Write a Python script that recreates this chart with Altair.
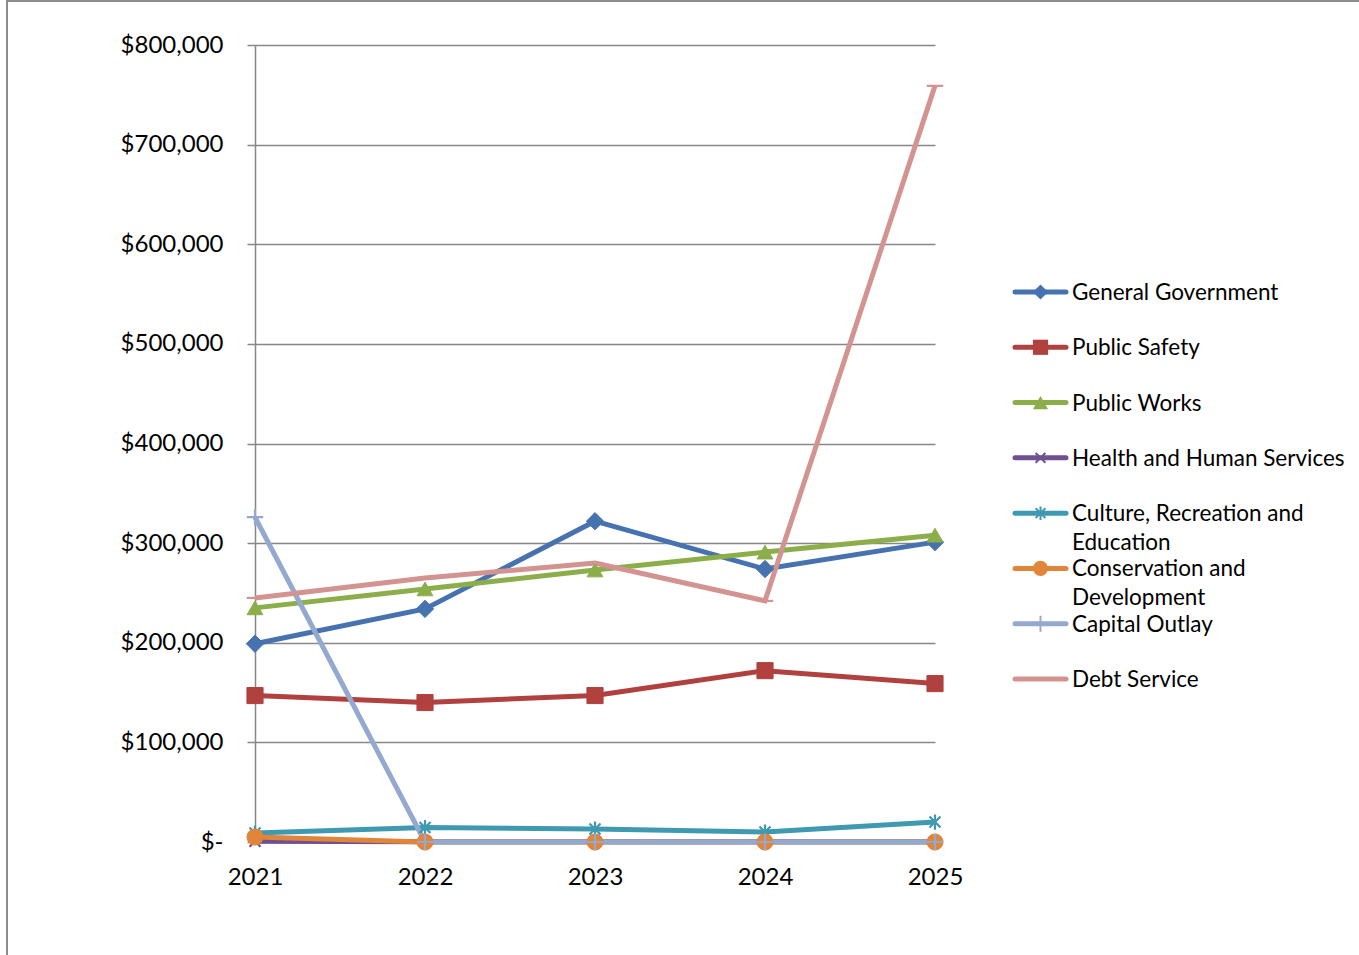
import altair as alt
import pandas as pd

years = ["2021", "2022", "2023", "2024", "2025"]
series_names = [
    "General Government",
    "Public Safety",
    "Public Works",
    "Health and Human Services",
    "Culture, Recreation and Education",
    "Conservation and Development",
    "Capital Outlay",
    "Debt Service",
]
legend_labels = [
    "General Government",
    "Public Safety",
    "Public Works",
    "Health and Human Services",
    "Culture, Recreation and\nEducation",
    "Conservation and\nDevelopment",
    "Capital Outlay",
    "Debt Service",
]
general_government = [199000, 234000, 322000, 274000, 301000]
public_safety = [147000, 140000, 147000, 172000, 159000]
public_works = [235000, 254000, 273000, 291000, 308000]
health_human_services = [800, 300, 300, 300, 300]
culture_recreation = [9000, 14500, 13000, 10000, 20000]
conservation_development = [5000, 0, 0, 0, 0]
capital_outlay = [326000, 0, 0, 0, 0]
debt_service = [245000, 265000, 280000, 242000, 759000]

colors = ["#4672B0", "#B0413E", "#8CAE4A", "#6F5091", "#3F99B1", "#E08539", "#93A9D0", "#D39391"]
marker_shapes = [
    "diamond",
    "square",
    "triangle-up",
    "M-0.8,-0.8L0.8,0.8M-0.8,0.8L0.8,-0.8",
    "M-0.8,-0.8L0.8,0.8M-0.8,0.8L0.8,-0.8M0,-1.1L0,1.1",
    "circle",
    "M-1.3,0L1.3,0M0,-1.3L0,1.3",
    "M-1.3,0L1.3,0",
]
marker_filled = [True, True, True, False, False, True, False, False]
marker_sizes = [300, 260, 250, 190, 190, 260, 160, 160]

values = [general_government, public_safety, public_works, health_human_services,
          culture_recreation, conservation_development, capital_outlay, debt_service]
rows = []
for i, (name, vals) in enumerate(zip(series_names, values)):
    for y, v in zip(years, vals):
        rows.append({"series": name, "order": i, "year": y, "value": v})
df = pd.DataFrame(rows)

legend_df = pd.DataFrame({
    "series": series_names,
    "idx": list(range(len(series_names))),
    "label": legend_labels,
    "filled": marker_filled,
})

FONT = "Lato"
FS = 24
LFS = 22.5
xenc = alt.X("year:N", sort=years,
             scale=alt.Scale(type="point", padding=0),
             axis=alt.Axis(title=None, labelAngle=0, ticks=False, grid=False,
                           labelFontSize=FS, labelPadding=23, labelColor="#000000",
                           domainColor="#878787", domainWidth=1.5))
yenc = alt.Y("value:Q", scale=alt.Scale(domain=[0, 800000], nice=False),
             axis=alt.Axis(title=None, values=[0, 100000, 200000, 300000, 400000,
                                               500000, 600000, 700000, 800000],
                           labelExpr="datum.value == 0 ? '$-' : '$' + format(datum.value, ',')",
                           labelFontSize=FS, labelPadding=24, labelColor="#000000",
                           tickSize=8, tickColor="#878787", tickWidth=1.5,
                           domainColor="#878787", domainWidth=1.5,
                           grid=True, gridColor="#878787", gridWidth=1.5))
color_scale = alt.Scale(domain=series_names, range=colors)
color_enc = alt.Color("series:N", scale=color_scale, legend=None)

lines = alt.Chart(df).mark_line(strokeWidth=5).encode(
    x=xenc, y=yenc, color=color_enc, order=alt.Order("order:Q"),
)

main_layers = [lines]
for name, col, shp, fil, sz in zip(series_names, colors, marker_shapes, marker_filled, marker_sizes):
    if fil:
        mk = alt.Chart(df).transform_filter(alt.datum.series == name).mark_point(
            shape=shp, filled=True, color=col, size=sz, opacity=1,
            stroke=col, strokeWidth=1)
    else:
        mk = alt.Chart(df).transform_filter(alt.datum.series == name).mark_point(
            shape=shp, filled=False, color=col, size=sz, opacity=1, strokeWidth=2.2)
    main_layers.append(mk.encode(x=xenc, y=yenc))
main = alt.layer(*main_layers)

# legend (drawn from the series list)
ly = alt.Y("idx:Q", scale=alt.Scale(domain=[0, 7], range=[247, 634]), axis=None)
shape_scale = alt.Scale(domain=series_names, range=marker_shapes)
leg_line = alt.Chart(legend_df).mark_rule(strokeWidth=5, strokeCap="round").encode(
    x=alt.value(760), x2=alt.value(811), y=ly, color=color_enc)
leg_pts_f = alt.Chart(legend_df).transform_filter("datum.filled").mark_point(
    filled=True, size=230, opacity=1, strokeWidth=1).encode(
    x=alt.value(785.5), y=ly, color=color_enc,
    shape=alt.Shape("series:N", scale=shape_scale, legend=None))
leg_pts_o = alt.Chart(legend_df).transform_filter("!datum.filled").mark_point(
    filled=False, size=150, opacity=1, strokeWidth=2).encode(
    x=alt.value(785.5), y=ly, color=color_enc,
    shape=alt.Shape("series:N", scale=shape_scale, legend=None))
leg_text = alt.Chart(legend_df).mark_text(
    align="left", baseline="top", dy=-10, fontSize=LFS, lineHeight=29,
    lineBreak="\n", color="#000000", font=FONT).encode(
    x=alt.value(817), y=ly, text="label:N")

border_df = pd.DataFrame({"k": [0]})
border_left = alt.Chart(border_df).mark_rule(color="#8C8C8C", strokeWidth=2).encode(
    x=alt.value(-248), y=alt.value(-45), y2=alt.value(910))
border_top = alt.Chart(border_df).mark_rule(color="#8C8C8C", strokeWidth=2).encode(
    y=alt.value(-44), x=alt.value(-249), x2=alt.value(1104))

legend = alt.layer(leg_line, leg_pts_f, leg_pts_o, leg_text, border_left, border_top)

chart = alt.layer(main, legend).resolve_scale(y="independent").properties(
    width=680, height=797,
    autosize=alt.AutoSizeParams(type="none"),
    padding={"left": 255, "top": 45, "right": 424, "bottom": 113},
).configure(font=FONT).configure_view(stroke=None)

chart.save("out.html", embed_options={"renderer": "svg", "actions": False})
